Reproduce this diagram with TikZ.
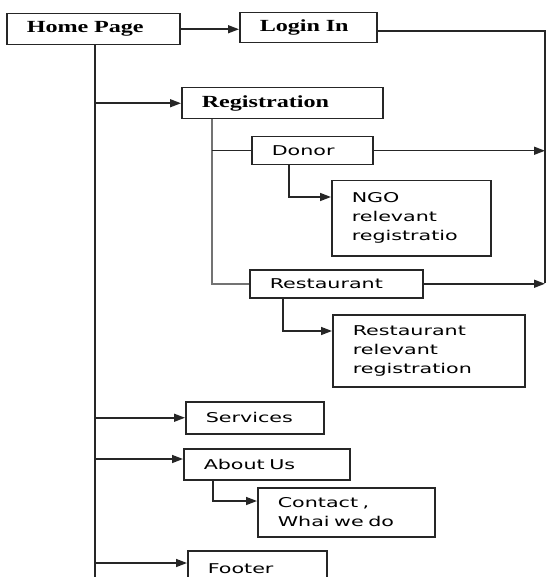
\documentclass[tikz,border=0pt]{standalone}
\usepackage{fontspec}
\usetikzlibrary{arrows.meta}
\newfontfamily\serifb{Liberation Serif}[FakeStretch=1.42]
\newfontfamily\sansf{DejaVu Sans}[FakeStretch=1.53]
\begin{document}
\begin{tikzpicture}[x=1pt,y=-1pt,
 box/.style={draw=black!85, line width=1.5pt, inner xsep=20pt, inner ysep=0pt, anchor=north west, align=left},
 sbox/.style={box, font=\sansf\fontsize{13.5}{19}\selectfont},
 tbox/.style={box, font=\serifb\bfseries\fontsize{17}{19}\selectfont},
 link/.style={line width=1.5pt, draw=black!85},
 arr/.style={link, -{Triangle[length=11pt,width=8pt]}},
 grayl/.style={line width=2.5pt, draw=black!55}]
\useasboundingbox (0,0) rectangle (548,577);
\node[tbox, text width=133pt, minimum height=31pt] (home) at (6,13) {Home Page};
\node[tbox, text width=97pt, minimum height=30pt] (login) at (239,12) {Login In};
\node[tbox, text width=161pt, minimum height=31pt] (reg) at (181,87) {Registration};
\node[sbox, text width=81pt, minimum height=28pt] (donor) at (251,136) {Donor};
\node[sbox, text width=119pt, minimum height=75pt] (ngo) at (331,180) {NGO\\relevant\\registratio};
\node[sbox, text width=133pt, minimum height=28pt] (rest) at (249,269) {Restaurant};
\node[sbox, text width=152pt, minimum height=72pt] (rrel) at (332,314) {Restaurant\\relevant\\registration};
\node[sbox, text width=98pt, minimum height=32pt] (serv) at (185,401) {Services};
\node[sbox, text width=126pt, minimum height=31pt] (about) at (183,448) {About Us};
\node[sbox, text width=137pt, minimum height=49pt] (contact) at (257,487) {Contact ,\\Whai we do};
\node[sbox, text width=99pt, minimum height=35pt] (footer) at (187,550) {Footer};

\coordinate (mbot) at (95,577);
\coordinate (m4) at (95,459);
\coordinate (m5) at (95,563);
\coordinate (rtop) at (545,31);
\coordinate (rbot) at (545,283);
\coordinate (g) at (212,0);
\coordinate (dc) at (289,197);
\coordinate (rc) at (283,331);
\coordinate (ac) at (213,501);

\draw[link] (home.south -| mbot) -- (mbot);
\draw[arr] (home.east) -- (login.west |- home.east);
\draw[link] (login.east |- rtop) -- (rtop) -- (rbot);
\draw[arr] (donor.east) -- (donor.east -| rtop);
\draw[arr] (rest.east) -- (rest.east -| rtop);
\draw[arr] (reg.west -| mbot) -- (reg.west);
\draw[arr] (serv.west -| mbot) -- (serv.west);
\draw[arr] (m4) -- (about.west |- m4);
\draw[arr] (m5) -- (footer.west |- m5);
\draw[grayl] (reg.south -| g) |- (rest.west);
\draw[link] (donor.west -| g) -- (donor.west);
\draw[arr] (donor.south -| dc) |- (ngo.west |- dc);
\draw[arr] (rest.south -| rc) |- (rrel.west |- rc);
\draw[arr] (about.south -| ac) |- (contact.west |- ac);
\end{tikzpicture}
\end{document}
